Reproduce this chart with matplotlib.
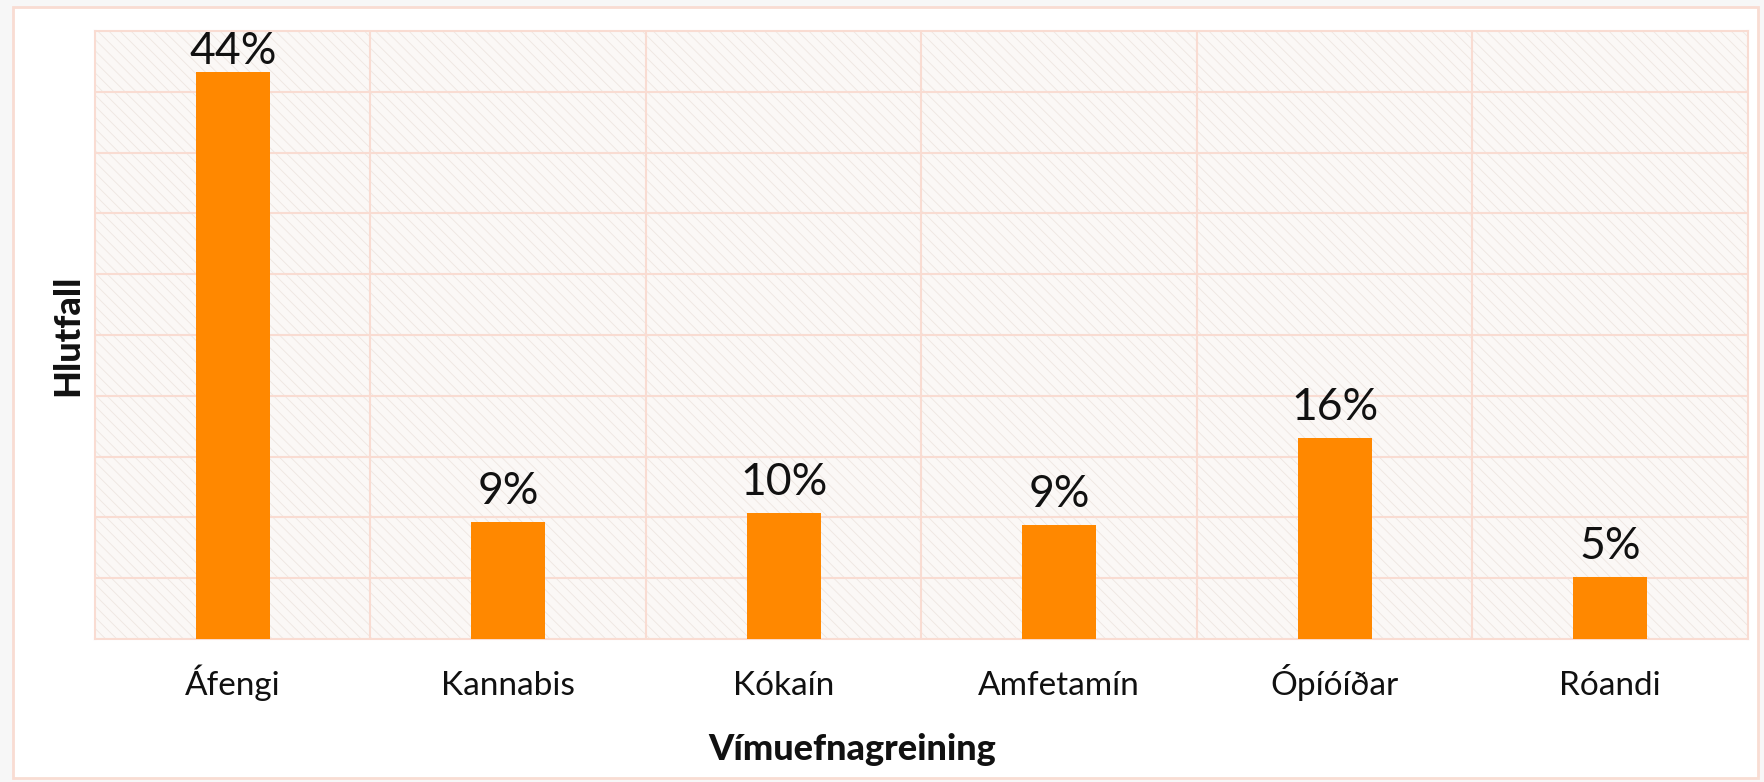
import matplotlib.pyplot as plt
import matplotlib.patches as mpatches
import numpy as np

# Data
categories = ['Áfengi', 'Kannabis', 'Kókaín', 'Amfetamín', 'Ópíóíðar', 'Róandi']
bar_heights = [46.6, 9.65, 10.35, 9.4, 16.5, 5.1]   # bar tops as drawn (axis 0-50)
value_labels = ['44%', '9%', '10%', '9%', '16%', '5%']

bar_color = '#FF8800'
grid_color = '#F9DCD2'
hatch_color = '#EEE6E1'

plt.rcParams['font.family'] = ['Lato', 'DejaVu Sans']
plt.rcParams['hatch.linewidth'] = 0.6
plt.rcParams['hatch.color'] = hatch_color

fig = plt.figure(figsize=(17.65, 7.82), dpi=100)
fig.patch.set_facecolor('#F7F7F7')

# outer white panel with a pinkish border
panel = mpatches.Rectangle((13 / 1765, 4 / 782), 1745 / 1765, 771 / 782,
                           transform=fig.transFigure, facecolor='white',
                           edgecolor=grid_color, linewidth=2, zorder=-10)
fig.patches.append(panel)

ax = fig.add_axes([95 / 1765, 1 - 639 / 782, 1653 / 1765, 608 / 782])
ax.set_facecolor('#FBF8F6')

# hatched background
bg = mpatches.Rectangle((0, 0), 1, 1, transform=ax.transAxes,
                        facecolor='#FBF8F6', edgecolor=hatch_color,
                        hatch='\\\\\\', linewidth=0, zorder=0)
ax.add_patch(bg)

x = np.arange(len(categories))
ax.bar(x, bar_heights, width=0.27, color=bar_color, zorder=3)

ax.set_xlim(-0.5, len(categories) - 0.5)
ax.set_ylim(0, 50)

# value labels above bars, kept inside the plot area like Excel does
labels = []
for xi, h, lab in zip(x, bar_heights, value_labels):
    t = ax.annotate(lab, (xi, h), xytext=(0, 13), textcoords='offset points',
                    ha='center', va='baseline', fontsize=32, color='#111111',
                    annotation_clip=False)
    labels.append(t)

fig.canvas.draw()
renderer = fig.canvas.get_renderer()
ax_top = ax.get_window_extent().y1
for t in labels:
    bb = t.get_window_extent(renderer)
    over = bb.y1 - ax_top
    if over > 0:
        t.xyann = (0, 13 - over * 72 / fig.dpi)

# grid lines: horizontal every 5, vertical at category boundaries
for yv in np.arange(5, 50, 5):
    ax.axhline(yv, color=grid_color, linewidth=1.5, zorder=1)
for xv in np.arange(0.5, len(categories) - 0.5, 1):
    ax.axvline(xv, color=grid_color, linewidth=1.5, zorder=1)

for s in ax.spines.values():
    s.set_color(grid_color)
    s.set_linewidth(1.5)

ax.set_yticks([])
ax.set_xticks(x)
ax.set_xticklabels(categories, fontsize=24, color='#111111', va='baseline')
ax.tick_params(axis='x', length=0, pad=40)

ax.set_xlabel('Vímuefnagreining', fontsize=26, fontweight='black',
              color='#111111')
ax.xaxis.set_label_coords(0.458, -0.181)
ax.xaxis.label.set_va('center')
ax.set_ylabel('Hlutfall', fontsize=26, fontweight='black',
              color='#111111', labelpad=8)

fig.savefig('out.png', dpi=100, facecolor=fig.get_facecolor())
